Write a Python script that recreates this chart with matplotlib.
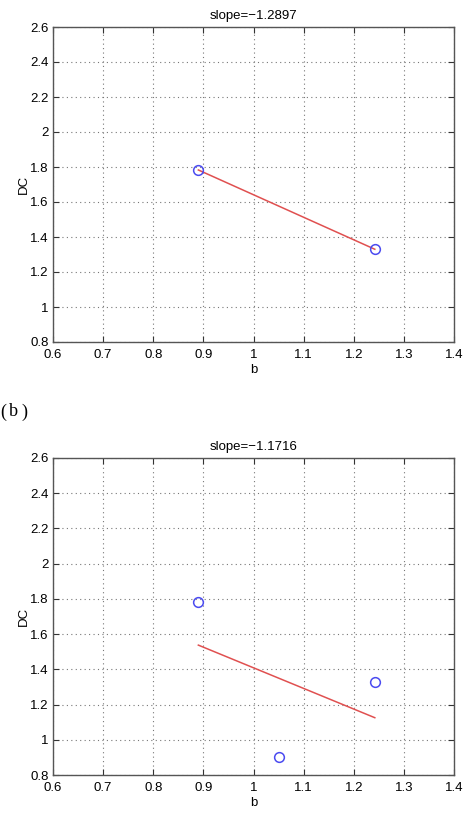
import numpy as np
import matplotlib
matplotlib.use("Agg")
import matplotlib.pyplot as plt

plt.rcParams['font.family'] = ['Liberation Sans', 'DejaVu Sans']

# Data
b_top = [0.890, 1.242]
dc_top = [1.783, 1.330]
b_bot = [0.890, 1.050, 1.242]
dc_bot = [1.783, 0.900, 1.330]
slopes = [-1.2897, -1.1716]
xticks = [0.6, 0.7, 0.8, 0.9, 1.0, 1.1, 1.2, 1.3, 1.4]
yticks = [0.8, 1.0, 1.2, 1.4, 1.6, 1.8, 2.0, 2.2, 2.4, 2.6]

W, H = 465, 833
fig = plt.figure(figsize=(W/100, H/100), dpi=100)

def fmt(v):
    return f"{v:g}"

def make_ax(rect, bx, dy, slope):
    ax = fig.add_axes(rect)
    p = np.polyfit(bx, dy, 1)
    xl = np.array([min(bx), max(bx)])
    ax.plot(xl, np.polyval(p, xl), color='#e05050', lw=1.1, zorder=3)
    ax.plot(bx, dy, 'o', mfc='none', mec='#4b4bf0', ms=7, mew=1.1, zorder=4)
    ax.set_xlim(0.6, 1.4)
    ax.set_ylim(0.8, 2.6)
    ax.set_xticks(xticks)
    ax.set_yticks(yticks)
    ax.set_xticklabels([fmt(v) for v in xticks], fontsize=9.5)
    ax.set_yticklabels([fmt(v) for v in yticks], fontsize=9.5)
    ax.tick_params(direction='in', top=True, right=True, length=4, width=0.8,
                   color='#333333')
    ax.tick_params(axis='x', pad=5)
    ax.tick_params(axis='y', pad=3)
    ax.grid(True, linestyle=(0, (1, 3)), color='#777777', lw=0.8)
    for s in ax.spines.values():
        s.set_color('#555555')
        s.set_linewidth(1.0)
    ax.set_title("slope=" + "\u2212" + f"{abs(slope):.4f}", fontsize=9.5, pad=6)
    ax.set_xlabel('b', fontsize=9.5, labelpad=2)
    ax.set_ylabel('DC', fontsize=9.5, labelpad=0)
    return ax

ax1 = make_ax([53/W, 1-342/H, 401/W, 315/H], b_top, dc_top, slopes[0])
ax2 = make_ax([53/W, 1-775/H, 401/W, 317/H], b_bot, dc_bot, slopes[1])

yb = 1 - 412/H
fig.text(0/W, yb, '(', fontsize=13, family='Liberation Serif', va='center', ha='left')
fig.text(13.5/W, yb, 'b', fontsize=13, family='Liberation Serif', va='center', ha='center')
fig.text(21.5/W, yb, ')', fontsize=13, family='Liberation Serif', va='center', ha='left')

fig.savefig('out.png', dpi=100)
